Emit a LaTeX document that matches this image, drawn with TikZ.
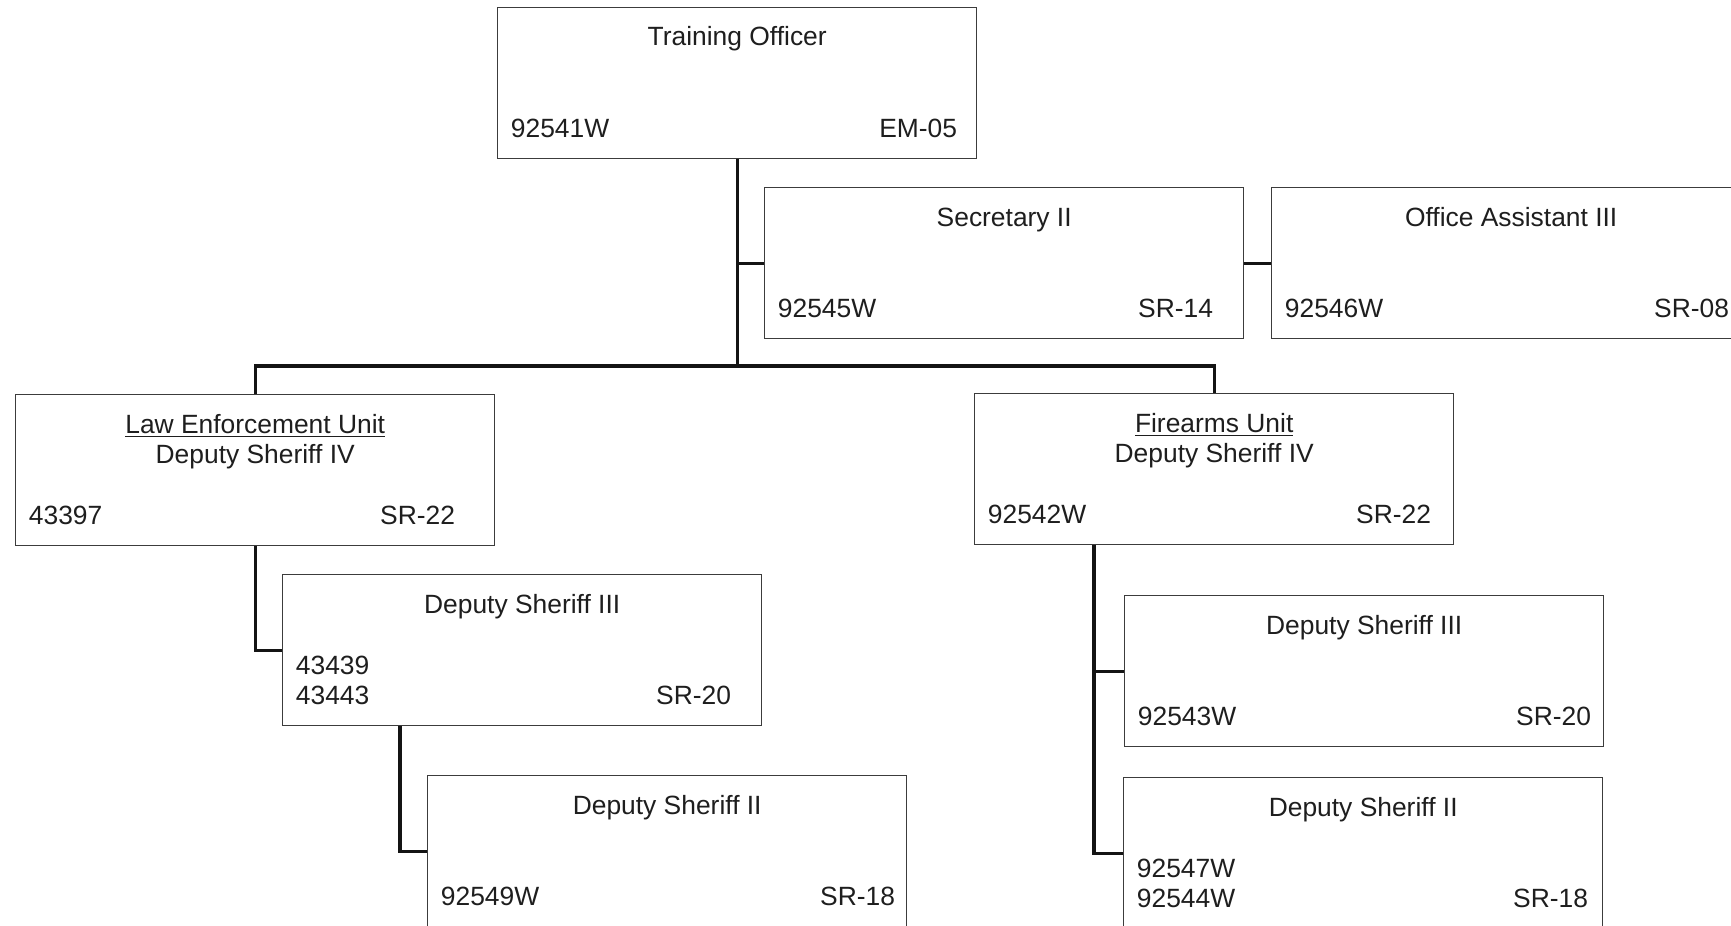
\documentclass[tikz,border=0pt]{standalone}
\usepackage{fontspec}
\setmainfont{Liberation Sans}
\usepackage{tikz}
\usepackage{xcolor}
\usetikzlibrary{positioning}
\definecolor{Borde}{RGB}{60,60,60}
\definecolor{Texto}{RGB}{30,30,30}
\definecolor{Linea}{RGB}{20,20,20}

% one position box: name, top-left corner, title, codes, grade, grade inset
\newcommand{\unitbox}[6]{%
  \node[unit] (#1) at (#2) {};
  \node[txt, anchor=base] (#1-title) at ([yshift=-19.5pt]#1.north)
    {\begin{tabular}[t]{@{}c@{}}#3\end{tabular}};
  \node[txt, anchor=base west] (#1-code) at ([xshift=6.75pt,yshift=10.75pt]#1.south west)
    {\begin{tabular}[b]{@{}l@{}}#4\end{tabular}};
  \node[txt, anchor=base east] (#1-grade) at ([xshift=-#6,yshift=10.75pt]#1.south east) {#5};
}

\begin{document}
\begin{tikzpicture}[
  x=0.5pt, y=-0.5pt,
  unit/.style={
    draw=Borde, line width=0.7pt,
    minimum width=239.5pt, minimum height=75.5pt,
    anchor=north west, inner sep=0pt
  },
  txt/.style={inner sep=0pt, text=Texto, font=\fontsize{13.2}{15}\selectfont},
  link/.style={draw=Linea, line width=1.7pt}
]
\useasboundingbox (0,0) rectangle (1731,926);

\unitbox{to}{497,7}{Training Officer}{92541W}{EM-05}{10pt}
\unitbox{sec}{764,187}{Secretary II}{92545W}{SR-14}{15.5pt}
\unitbox{oa}{1271,187}{Office Assistant III}{92546W}{SR-08}{11pt}
\unitbox{le}{15,394}{\underline{Law Enforcement Unit}\\Deputy Sheriff IV}{43397}{SR-22}{20pt}
\unitbox{fa}{974,393}{\underline{Firearms Unit}\\Deputy Sheriff IV}{92542W}{SR-22}{11.5pt}
\unitbox{ds3a}{282,574}{Deputy Sheriff III}{43439\\43443}{SR-20}{15.5pt}
\unitbox{ds2a}{427,775}{Deputy Sheriff II}{92549W}{SR-18}{6pt}
\unitbox{ds3b}{1124,595}{Deputy Sheriff III}{92543W}{SR-20}{6.5pt}
\unitbox{ds2b}{1123,777}{Deputy Sheriff II}{92547W\\92544W}{SR-18}{7.5pt}

\coordinate (bus) at (736.5,366);
\coordinate (ds3a-drop) at ([xshift=59pt]ds3a.south west);
\coordinate (fa-drop) at ([xshift=60pt]fa.south west);

\draw[link] (to.south) -- (to.south |- bus);
\draw[link] (le.north) |- (bus) -| (fa.north);
\draw[link] (sec.west) -- (sec.west -| to.south);
\draw[link] (sec.east) -- (oa.west);
\draw[link] (le.south) |- (ds3a.west);
\draw[link] (ds3a-drop) |- (ds2a.west);
\draw[link] (fa-drop) |- (ds2b.west);
\draw[link] (fa-drop |- ds3b.west) -- (ds3b.west);

\end{tikzpicture}
\end{document}
